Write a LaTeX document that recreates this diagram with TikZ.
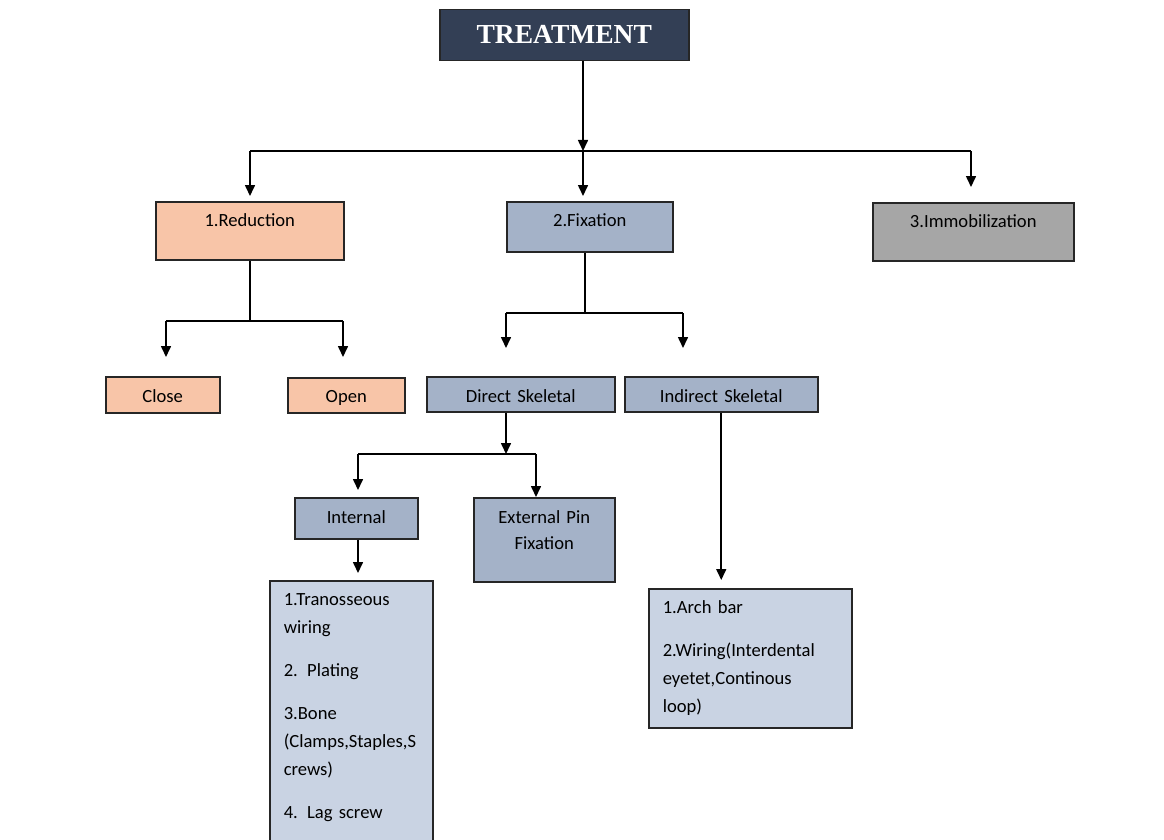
\documentclass[tikz,border=0pt]{standalone}
\usepackage{fontspec}
\setmainfont{Carlito}
\newfontfamily\headfont{Liberation Serif}
\usetikzlibrary{arrows.meta}

\definecolor{navy}{HTML}{333F55}
\definecolor{peach}{HTML}{F8C5A8}
\definecolor{steel}{HTML}{A4B2C8}
\definecolor{pale}{HTML}{C9D3E3}
\definecolor{ash}{HTML}{A6A6A6}

\begin{document}
\begin{tikzpicture}[x=1pt, y=-1pt,
        box/.style={draw=black!85, line width=1.5pt, anchor=north west, inner sep=0pt, align=center, font=\fontsize{18.6}{26}\selectfont},
        listbox/.style={box, fill=pale, align=left, inner xsep=14pt, font=\fontsize{18.6}{28}\selectfont},
        link/.style={line width=1.6pt},
        arrow/.style={link, -{Triangle[width=10pt,length=11pt]}}]

        \clip (0,0) rectangle (1164,840);

        % Top box
        \node[box, fill=navy, text=white, text width=249pt, text height=34pt, text depth=17pt, font=\headfont\bfseries\fontsize{27.5}{30}\selectfont] (treat) at (439,9) {TREATMENT};

        % Main branches
        \node[box, fill=peach, text width=188pt, text height=25pt, text depth=33pt] (red) at (155,201) {1.Reduction};
        \node[box, fill=steel, text width=166pt, text height=25pt, text depth=25pt] (fix) at (506,201) {2.Fixation};
        \node[box, fill=ash, text width=201pt, text height=25pt, text depth=33pt] (immob) at (872,202) {3.Immobilization};

        % Reduction types
        \node[box, fill=peach, text width=114pt, text height=26pt, text depth=10pt] (close) at (105,376) {Close};
        \node[box, fill=peach, text width=117pt, text height=25pt, text depth=10pt] (open) at (287,377) {Open};

        % Fixation types
        \node[box, fill=steel, text width=188pt, text height=26pt, text depth=9pt] (direct) at (426,376) {Direct Skeletal};
        \node[box, fill=steel, text width=193pt, text height=26pt, text depth=9pt] (indirect) at (624,376) {Indirect Skeletal};
        \node[box, fill=steel, text width=123pt, text height=26pt, text depth=15pt] (internal) at (294,497) {Internal};
        \node[box, fill=steel, text width=141pt, text height=26pt, text depth=58pt] (external) at (473,497) {External Pin\\Fixation};

        % Lists
        \node[listbox, text width=135pt, text height=25pt, text depth=270pt] (intlist) at (269,580)
            {1.Tranosseous\\wiring\\[15pt]2. Plating\\[15pt]3.Bone\\(Clamps,Staples,S\\crews)\\[15pt]4. Lag screw};
        \node[listbox, text width=175pt, text height=25pt, text depth=114pt] (indlist) at (648,588)
            {1.Arch bar\\[15pt]2.Wiring(Interdental\\eyetet,Continous\\loop)};

        % Treatment to branches
        \coordinate (bar1l) at (250,151);
        \coordinate (bar1m) at (583,151);
        \coordinate (bar1r) at (971,151);
        \draw[arrow] (treat.south -| bar1m) -- (bar1m);
        \draw[link] (bar1l) -- (bar1r);
        \draw[arrow, shorten >=5pt] (bar1l) -- (bar1l |- red.north);
        \draw[arrow, shorten >=5pt] (bar1m) -- (bar1m |- fix.north);
        \draw[arrow, shorten >=15pt] (bar1r) -- (bar1r |- immob.north);

        % Reduction to close / open
        \coordinate (bar2l) at (166,321);
        \coordinate (bar2r) at (343,321);
        \draw[link] (red.south) -- (red.south |- bar2l);
        \draw[link] (bar2l) -- (bar2r);
        \draw[arrow, shorten >=19pt] (bar2l) -- (bar2l |- close.north);
        \draw[arrow, shorten >=20pt] (bar2r) -- (bar2r |- open.north);

        % Fixation to direct / indirect
        \coordinate (bar3l) at (506,313);
        \coordinate (bar3m) at (585,313);
        \coordinate (bar3r) at (683,313);
        \draw[link] (fix.south -| bar3m) -- (bar3m);
        \draw[link] (bar3l) -- (bar3r);
        \draw[arrow, shorten >=28pt] (bar3l) -- (bar3l |- direct.north);
        \draw[arrow, shorten >=28pt] (bar3r) -- (bar3r |- indirect.north);

        % Direct to internal / external
        \coordinate (bar4l) at (358,454);
        \coordinate (bar4m) at (506,454);
        \coordinate (bar4r) at (536,454);
        \draw[arrow] (direct.south -| bar4m) -- (bar4m);
        \draw[link] (bar4l) -- (bar4r);
        \draw[arrow, shorten >=7pt] (bar4l) -- (bar4l |- internal.north);
        \draw[arrow] (bar4r) -- (bar4r |- external.north);

        % Down to the lists
        \draw[arrow, shorten >=7pt] (internal.south -| bar4l) -- (bar4l |- intlist.north);
        \draw[arrow, shorten >=8pt] (indirect.south) -- (indirect.south |- indlist.north);
    \end{tikzpicture}
\end{document}
